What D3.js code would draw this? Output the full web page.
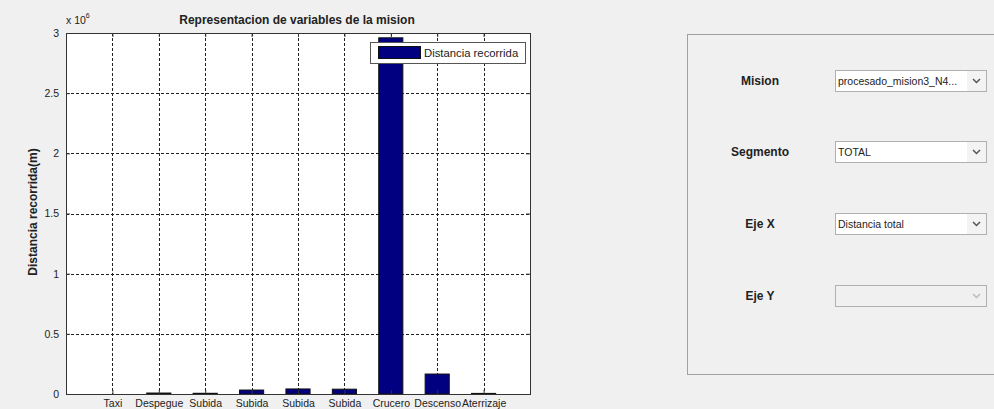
<!DOCTYPE html>
<html>
<head>
<meta charset="utf-8">
<script src="https://cdn.jsdelivr.net/npm/d3@7"></script>
<style>
  body { margin: 0; background: #f0f0f0; }
  svg { display: block; font-family: "Liberation Sans", Arial, sans-serif; }
</style>
</head>
<body>
<svg id="chart" width="994" height="409"></svg>
<script>
// segment names along x
const segments = ['Taxi', 'Despegue', 'Subida', 'Subida', 'Subida', 'Subida', 'Crucero', 'Descenso', 'Aterrizaje']
// distance per segment (m)
const distances = [0, 8000, 6000, 33000, 42000, 40000, 2960000, 166000, 5000]
const yTicks = [0, 0.5e6, 1e6, 1.5e6, 2e6, 2.5e6, 3e6]
// right side controls
const controlLabels = ['Mision', 'Segmento', 'Eje X', 'Eje Y']
const controlValues = ['procesado_mision3_N4...', 'TOTAL', 'Distancia total', '']

const margin = { top: 33, right: 464, bottom: 15, left: 66 }
const width = 994 - (margin.left + margin.right)
const height = 409 - (margin.top + margin.bottom)

const svg = d3.select('#chart')

// x scale (bars sit on 1..9, axis runs 0..10)
const xscale = d3.scaleLinear()
  .domain([0, segments.length + 1])
  .range([margin.left, margin.left + width])
// y scale
const yscale = d3.scaleLinear()
  .domain([0, 3e6])
  .range([margin.top + height, margin.top])

// plot background
svg.append('rect')
  .attr('x', margin.left)
  .attr('y', margin.top)
  .attr('width', width)
  .attr('height', height)
  .attr('fill', '#fff')

// grid
const grid = svg.append('g')
  .attr('stroke', '#222')
  .attr('stroke-width', 1)
  .attr('stroke-dasharray', '3,2')
grid.selectAll('line.gx')
  .data(d3.range(1, segments.length + 1))
  .enter()
  .append('line')
  .attr('x1', d => Math.round(xscale(d)) + 0.5)
  .attr('x2', d => Math.round(xscale(d)) + 0.5)
  .attr('y1', margin.top)
  .attr('y2', margin.top + height)
grid.selectAll('line.gy')
  .data(yTicks.slice(1, -1))
  .enter()
  .append('line')
  .attr('y1', d => Math.round(yscale(d)) + 0.5)
  .attr('y2', d => Math.round(yscale(d)) + 0.5)
  .attr('x1', margin.left)
  .attr('x2', margin.left + width)

// bars
const barW = 0.52
svg.append('g')
  .selectAll('rect')
  .data(distances)
  .enter()
  .append('rect')
  .attr('x', (d, i) => xscale(i + 1 - barW / 2))
  .attr('y', d => yscale(d))
  .attr('width', xscale(barW) - xscale(0))
  .attr('height', d => yscale(0) - yscale(d))
  .attr('fill', '#000080')
  .attr('stroke', '#111')
  .attr('stroke-width', 1)

// axes
const bottomAxis = d3.axisBottom(xscale)
  .tickValues(d3.range(1, segments.length + 1))
  .tickFormat(d => segments[d - 1])
  .tickSizeInner(-4)
  .tickSizeOuter(0)
  .tickPadding(6)
const gx = svg.append('g')
  .attr('transform', `translate(0, ${margin.top + height})`)
  .call(bottomAxis)
const leftAxis = d3.axisLeft(yscale)
  .tickValues(yTicks)
  .tickFormat(d => d / 1e6)
  .tickSizeInner(-4)
  .tickSizeOuter(0)
  .tickPadding(7)
const gy = svg.append('g')
  .attr('transform', `translate(${margin.left}, 0)`)
  .call(leftAxis)
const topAxis = d3.axisTop(xscale)
  .tickValues(d3.range(1, segments.length + 1))
  .tickFormat('')
  .tickSizeInner(-4)
  .tickSizeOuter(0)
svg.append('g')
  .attr('transform', `translate(0, ${margin.top})`)
  .call(topAxis)
const rightAxis = d3.axisRight(yscale)
  .tickValues(yTicks)
  .tickFormat('')
  .tickSizeInner(-4)
  .tickSizeOuter(0)
svg.append('g')
  .attr('transform', `translate(${margin.left + width}, 0)`)
  .call(rightAxis)
svg.selectAll('.domain').attr('stroke', '#333')
svg.selectAll('.tick line').attr('stroke', '#333')
svg.selectAll('.tick text')
  .attr('font-family', '"Liberation Sans", Arial, sans-serif')
  .attr('font-size', 10.5)
  .attr('fill', '#222')

// box
svg.append('rect')
  .attr('x', margin.left + 0.5)
  .attr('y', margin.top + 0.5)
  .attr('width', width)
  .attr('height', height)
  .attr('fill', 'none')
  .attr('stroke', '#333')

// title, labels, exponent
svg.append('text')
  .attr('x', 297)
  .attr('y', 24)
  .attr('text-anchor', 'middle')
  .attr('font-size', 12)
  .attr('font-weight', 'bold')
  .attr('fill', '#222')
  .text('Representacion de variables de la mision')
svg.append('text')
  .attr('transform', `translate(37, 212) rotate(-90)`)
  .attr('text-anchor', 'middle')
  .attr('font-size', 12)
  .attr('font-weight', 'bold')
  .attr('fill', '#222')
  .text('Distancia recorrida(m)')
const expo = svg.append('text')
  .attr('x', 66)
  .attr('y', 24)
  .attr('font-size', 10.5)
  .attr('fill', '#222')
expo.append('tspan').text('x 10')
expo.append('tspan').attr('dy', -6).attr('font-size', 7).text('6')

// legend
const lg = svg.append('g').attr('transform', 'translate(370, 42)')
lg.append('rect')
  .attr('x', 0.5).attr('y', 0.5)
  .attr('width', 155).attr('height', 21)
  .attr('fill', '#fff')
  .attr('stroke', '#555')
lg.append('rect')
  .attr('x', 8.5).attr('y', 4.5)
  .attr('width', 42).attr('height', 12)
  .attr('fill', '#000080')
  .attr('stroke', '#111')
lg.append('text')
  .attr('x', 54).attr('y', 15)
  .attr('font-size', 11.3)
  .attr('fill', '#222')
  .text('Distancia recorrida')

// right panel
svg.append('rect')
  .attr('x', 687.5).attr('y', 34.5)
  .attr('width', 320).attr('height', 340)
  .attr('fill', '#f0f0f0')
  .attr('stroke', '#a0a0a0')

const rowY = [81, 152, 224, 296]
const ctrl = svg.append('g')
  .selectAll('g')
  .data(controlLabels)
  .enter()
  .append('g')
  .attr('transform', (d, i) => `translate(0, ${rowY[i]})`)
ctrl.append('text')
  .attr('x', 760)
  .attr('y', 4)
  .attr('text-anchor', 'middle')
  .attr('font-size', 12)
  .attr('font-weight', 'bold')
  .attr('fill', '#222')
  .text(d => d)
ctrl.append('rect')
  .attr('x', 835.5).attr('y', -10.5)
  .attr('width', 151).attr('height', 21)
  .attr('fill', (d, i) => i === 3 ? '#f0f0f0' : '#fff')
  .attr('stroke', '#b0b0b0')
ctrl.append('rect')
  .attr('x', 967).attr('y', -10)
  .attr('width', 19).attr('height', 20)
  .attr('fill', (d, i) => i === 3 ? '#f0f0f0' : '#f3f3f3')
ctrl.append('path')
  .attr('d', 'M973,-2 L976.5,1.5 L980,-2')
  .attr('fill', 'none')
  .attr('stroke', (d, i) => i === 3 ? '#bbb' : '#555')
  .attr('stroke-width', 1.5)
ctrl.append('text')
  .attr('x', 838)
  .attr('y', 4)
  .attr('font-size', 10.5)
  .attr('fill', '#222')
  .text((d, i) => controlValues[i])
</script>
</body>
</html>
